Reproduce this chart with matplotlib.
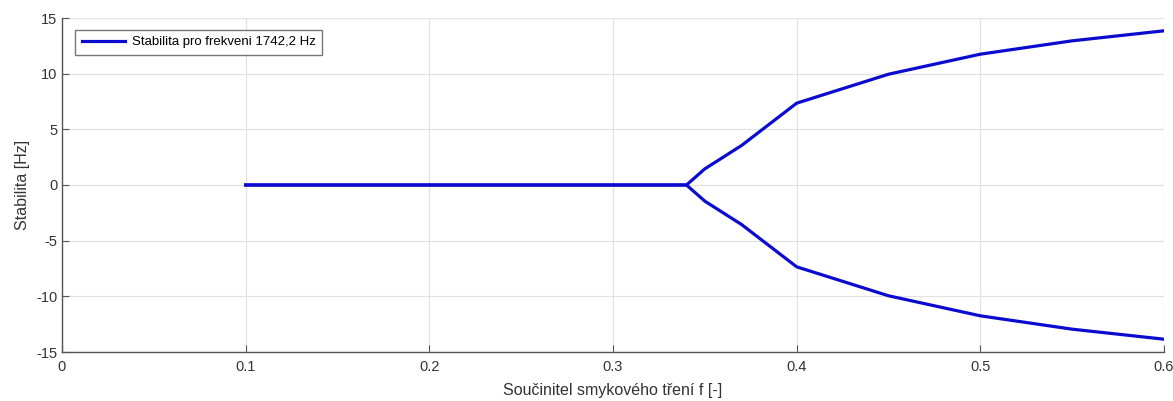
import matplotlib
matplotlib.use("Agg")
import matplotlib.pyplot as plt

x = [0.1, 0.15, 0.2, 0.25, 0.3, 0.34, 0.35, 0.37, 0.4, 0.45, 0.5, 0.55, 0.6]
upper = [0, 0, 0, 0, 0, 0, 1.45, 3.55, 7.35, 9.95, 11.75, 12.95, 13.85]
lower = [-v for v in upper]
xticks = [0, 0.1, 0.2, 0.3, 0.4, 0.5, 0.6]
yticks = [-15, -10, -5, 0, 5, 10, 15]

plt.rcParams['font.family'] = ['Liberation Sans', 'DejaVu Sans']
plt.rcParams['axes.unicode_minus'] = False
fig = plt.figure(figsize=(11.73, 4.01), dpi=100)
ax = fig.add_axes([62/1173, 1-352/401, (1164-62)/1173, (352-18)/401])
ax.plot(x, upper, color='#0b0bd0', lw=2.3, label='Stabilita pro frekveni 1742,2 Hz', solid_joinstyle='miter')
ax.plot(x, lower, color='#0b0bd0', lw=2.3, solid_joinstyle='miter')
ax.set_xlim(0, 0.6)
ax.set_ylim(-15, 15)
ax.set_xticks(xticks)
ax.set_xticklabels([f"{t:g}" for t in xticks])
ax.set_yticks(yticks)
ax.grid(True, color='#e2e2e2', lw=0.9)
ax.set_axisbelow(True)
for s in ['top', 'right']:
    ax.spines[s].set_visible(False)
for s in ['left', 'bottom']:
    ax.spines[s].set_color('#555555')
    ax.spines[s].set_linewidth(1.0)
ax.tick_params(direction='in', length=5, color='#555555', labelcolor='#333333', labelsize=10.5)
ax.tick_params(axis='x', pad=6)
ax.set_xlabel('Součinitel smykového tření f [-]', fontsize=11.5, color='#333333', labelpad=6)
ax.set_ylabel('Stabilita [Hz]', fontsize=11.5, color='#333333', labelpad=4)
leg = ax.legend(loc='upper left', bbox_to_anchor=(0.006, 0.985), fontsize=9.5, frameon=True,
                fancybox=False, edgecolor='#555555', handlelength=3.3, borderpad=0.5,
                handletextpad=0.5)
leg.get_frame().set_linewidth(1.0)
fig.savefig('out.png', dpi=100, facecolor='white')
